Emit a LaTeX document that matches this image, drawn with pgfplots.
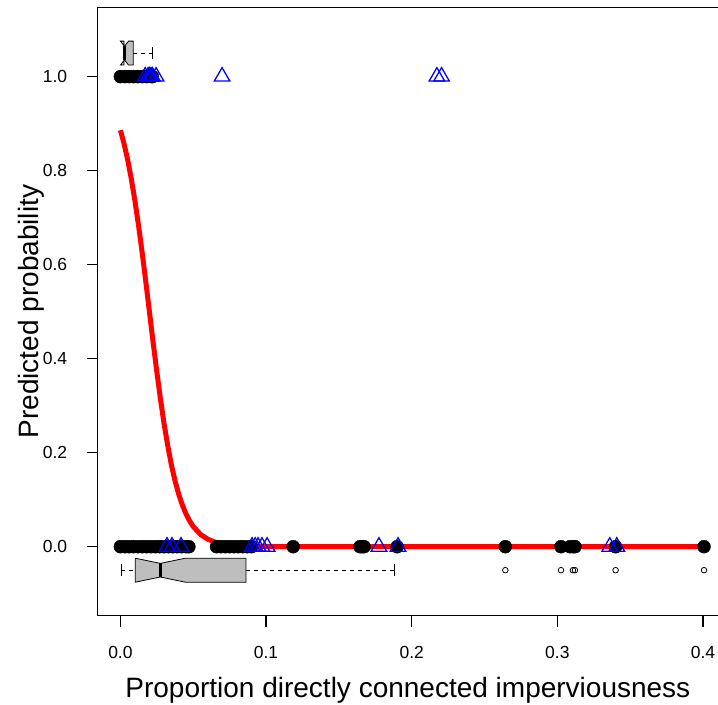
\documentclass[border=0pt]{standalone}
\usepackage{fontspec}
\setmainfont{Liberation Sans}
\usepackage{pgfplots}
\pgfplotsset{compat=1.18}
\definecolor{rblue}{RGB}{0,0,255}
\definecolor{rred}{RGB}{255,0,0}
\definecolor{rgray}{RGB}{190,190,190}
\begin{document}
\begin{tikzpicture}
\begin{axis}[
  at={(0,0)}, anchor=south west,
  scale only axis, width=620.3bp, height=608.2bp,
  xmin=-0.0156, xmax=0.4103, ymin=-0.1468, ymax=1.147,
  axis x line=box, axis y line=left,
  axis line style={line width=1.3bp, -},
  clip=false,
  xtick pos=left, ytick pos=left, tick align=outside,
  major tick length=11bp,
  major tick style={draw=black, line width=1.2bp},
  xtick={0,0.1,0.2,0.3,0.4}, xticklabels={0.0,0.1,0.2,0.3,0.4},
  ytick={0,0.2,0.4,0.6,0.8,1}, yticklabels={0.0,0.2,0.4,0.6,0.8,1.0},
  tick label style={font=\fontsize{17.5bp}{21bp}\selectfont},
  xticklabel style={yshift=-16bp},
  yticklabel style={xshift=-16bp},
  xlabel={Proportion directly connected imperviousness},
  ylabel={Predicted probability},
  every axis x label/.style={at={(rel axis cs:0.5,0)}, yshift=-75bp, anchor=center, font=\fontsize{28bp}{32bp}\selectfont},
  every axis y label/.style={at={(rel axis cs:0,0.5)}, xshift=-66bp, rotate=90, anchor=center, font=\fontsize{28bp}{32bp}\selectfont},
]
% black points, y = 1
\addplot[only marks, mark=*, mark size=6.5bp, black] coordinates {
(0,1)(0.003,1)(0.006,1)(0.009,1)(0.012,1)(0.015,1)(0.018,1)(0.021,1)(0.022,1)
};
% black points, y = 0
\addplot[only marks, mark=*, mark size=6.5bp, black] coordinates {
(0,0)(0.003,0)(0.006,0)(0.009,0)(0.012,0)(0.015,0)(0.018,0)(0.021,0)(0.024,0)
(0.027,0)(0.030,0)(0.033,0)(0.036,0)(0.039,0)(0.042,0)(0.045,0)(0.047,0)
(0.066,0)(0.069,0)(0.072,0)(0.075,0)(0.078,0)(0.081,0)(0.084,0)(0.087,0)(0.090,0)
(0.1186,0)(0.1645,0)(0.166,0)(0.1673,0)(0.190,0)
(0.2643,0)(0.3025,0)(0.3087,0)(0.3107,0)(0.3121,0)(0.340,0)(0.4007,0)
};
% blue triangles
\addplot[only marks, mark=triangle, mark size=9bp, rblue, mark options={line width=1.3bp}] coordinates {
(0.017,1)(0.019,1)(0.020,1)(0.021,1)(0.022,1)(0.0245,1)(0.0698,1)(0.2173,1)(0.2205,1)
};
\addplot[only marks, mark=triangle, mark size=9bp, rblue, mark options={line width=1.3bp}] coordinates {
(0.032,0)(0.0354,0)(0.0416,0)(0.0904,0)(0.0925,0)(0.0945,0)(0.0972,0)(0.1007,0)
(0.1775,0)(0.1906,0)(0.336,0)(0.3408,0)
};

% boxplot for y = 0 group
\addplot[draw=black, line width=0.8bp, fill=rgray] coordinates {
(0.0102,-0.0245)(0.0102,-0.0755)(0.0274,-0.0645)(0.0446,-0.0755)(0.0862,-0.0755)
(0.0862,-0.0245)(0.0446,-0.0245)(0.0274,-0.0355)(0.0102,-0.0245)
};
\addplot[black, line width=3bp] coordinates {(0.0274,-0.0355)(0.0274,-0.0645)};
\addplot[black, line width=0.9bp, dash pattern=on 4bp off 4bp] coordinates {(0.0004,-0.05)(0.0102,-0.05)};
\addplot[black, line width=0.9bp, dash pattern=on 4bp off 4bp] coordinates {(0.0862,-0.05)(0.1883,-0.05)};
\addplot[black, line width=0.9bp] coordinates {(0.0004,-0.0628)(0.0004,-0.0372)};
\addplot[black, line width=0.9bp] coordinates {(0.1883,-0.0628)(0.1883,-0.0372)};
\addplot[only marks, mark=o, mark size=2.8bp, black, mark options={line width=0.8bp}] coordinates {
(0.2643,-0.05)(0.3025,-0.05)(0.3107,-0.05)(0.3121,-0.05)(0.340,-0.05)(0.4007,-0.05)
};

% boxplot for y = 1 group
\addplot[draw=black, line width=0.8bp, fill=rgray] coordinates {
(0.0025,1.0755)(0.0025,1.0245)(0.0,1.0245)(0.0028,1.0355)(0.0056,1.0245)(0.0088,1.0245)
(0.0088,1.0755)(0.0056,1.0755)(0.0028,1.0645)(0.0,1.0755)(0.0025,1.0755)
};
\addplot[black, line width=3bp] coordinates {(0.0028,1.0355)(0.0028,1.0645)};
\addplot[black, line width=0.9bp, dash pattern=on 4bp off 4bp] coordinates {(0.0088,1.05)(0.0222,1.05)};
\addplot[black, line width=0.9bp] coordinates {(0.0222,1.0372)(0.0222,1.0628)};

% fitted curve
\addplot[rred, line width=5bp] coordinates {
(0,0.886)(0.0025,0.857)(0.005,0.823)(0.0075,0.782)(0.01,0.735)(0.0125,0.682)
(0.015,0.624)(0.0175,0.562)(0.02,0.4975)(0.0225,0.4335)(0.025,0.372)(0.0275,0.314)
(0.03,0.261)(0.0325,0.215)(0.035,0.174)(0.0375,0.140)(0.04,0.112)(0.0425,0.089)
(0.045,0.070)(0.0475,0.055)(0.05,0.043)(0.055,0.026)(0.06,0.016)(0.065,0.0095)
(0.07,0.0057)(0.08,0.002)(0.09,0.0007)(0.1,0.0003)(0.15,0)(0.2,0)(0.3,0)(0.402,0)
};
\end{axis}
% tick marks (axis box spans (0,0)--(620.3bp,608.2bp))
\foreach \yy in {69.01,163.03,257.05,351.06,445.08,539.10}
  \draw[line width=1.2bp] (0,\yy bp) -- (-11bp,\yy bp);
\foreach \xx in {22.72,168.37,314.01,459.66,605.30}
  \draw[line width=1.2bp] (\xx bp,0) -- (\xx bp,-11bp);
\pgfresetboundingbox
\path[use as bounding box] (-97.7bp,-89.3bp) rectangle (620.3bp,615.7bp);
\end{tikzpicture}
\end{document}
